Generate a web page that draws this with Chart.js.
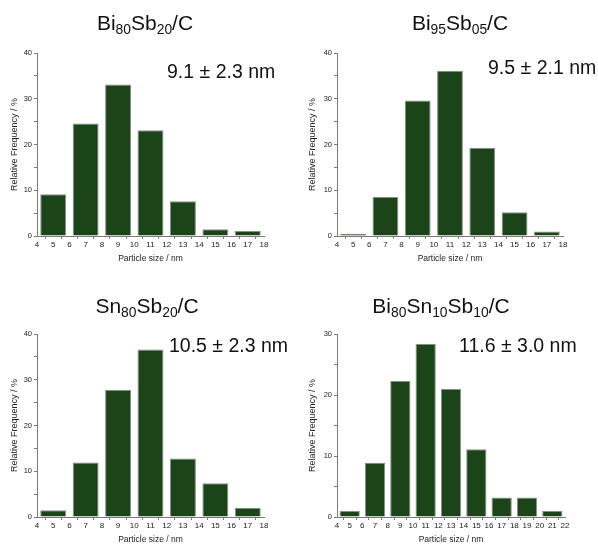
<!DOCTYPE html>
<html>
<head>
<meta charset="utf-8">
<script src="https://cdn.jsdelivr.net/npm/chart.js@4.4.1/dist/chart.umd.min.js"></script>
<style>
  html, body { margin: 0; padding: 0; background: #fff; }
  #wrap { position: relative; width: 598px; height: 545px; overflow: hidden; font-family: "Liberation Sans", Arial, sans-serif; color: #111; }
  .cv { position: absolute; }
  .ttl, .ann { position: absolute; white-space: nowrap; line-height: 1; }
  .ttl { font-size: 21px; transform: translateX(-50%); }
  .ann { font-size: 19.5px; }
  .ttl sub { font-size: 0.66em; vertical-align: -0.28em; line-height: 0; }
</style>
</head>
<body>
<div id="wrap">
  <div class="cv" style="left:0;top:0;width:298px;height:272px"><canvas id="c1"></canvas></div>
  <div class="cv" style="left:298px;top:0;width:300px;height:272px"><canvas id="c2"></canvas></div>
  <div class="cv" style="left:0;top:272px;width:298px;height:273px"><canvas id="c3"></canvas></div>
  <div class="cv" style="left:298px;top:272px;width:300px;height:273px"><canvas id="c4"></canvas></div>

  <div class="ttl" style="left:145px;top:12px">Bi<sub>80</sub>Sb<sub>20</sub>/C</div>
  <div class="ttl" style="left:460px;top:12px">Bi<sub>95</sub>Sb<sub>05</sub>/C</div>
  <div class="ttl" style="left:147px;top:295px">Sn<sub>80</sub>Sb<sub>20</sub>/C</div>
  <div class="ttl" style="left:441px;top:295px">Bi<sub>80</sub>Sn<sub>10</sub>Sb<sub>10</sub>/C</div>

  <div class="ann" style="left:167px;top:62px">9.1 ± 2.3 nm</div>
  <div class="ann" style="left:488px;top:58px">9.5 ± 2.1 nm</div>
  <div class="ann" style="left:169px;top:336px">10.5 ± 2.3 nm</div>
  <div class="ann" style="left:459px;top:336px">11.6 ± 3.0 nm</div>
</div>
<script>
// bin centres (nm) and relative frequencies (%)
const bins18 = [5, 7, 9, 11, 13, 15, 17];
const bins22 = [5, 7, 9, 11, 13, 15, 17, 19, 21];
const freqBi80Sb20   = [9.1, 24.6, 33.1, 23.1, 7.6, 1.5, 1.1];
const freqBi95Sb05   = [0.5, 8.5, 29.6, 36.1, 19.3, 5.2, 1.0];
const freqSn80Sb20   = [1.5, 11.9, 27.8, 36.6, 12.8, 7.4, 2.0];
const freqBi80Sn10Sb10 = [1.0, 8.9, 22.3, 28.4, 21.0, 11.1, 3.2, 3.2, 1.0];

const xTitle = 'Particle size / nm';
const yTitle = 'Relative Frequency / %';

const BAR = '#1b4518';
const AXIS = '#7a7a7a';

function makePanel(id, bins, freq, xMax, yMax, box) {
  const ctx = document.getElementById(id).getContext('2d');
  return new Chart(ctx, {
    type: 'bar',
    data: {
      datasets: [{
        data: bins.map((b, i) => ({ x: b, y: freq[i] })),
        backgroundColor: BAR,
        borderColor: '#8c8c8c',
        borderWidth: 1,
        // ruler spacing is 1 nm (tick step), bins are 2 nm wide -> 1.6 nm bars
        barPercentage: 1.6,
        categoryPercentage: 1
      }]
    },
    options: {
      animation: false,
      responsive: true, maintainAspectRatio: false,
      layout: { padding: { left: 0, top: box.top, right: box.right, bottom: box.bottom } },
      plugins: { legend: { display: false }, tooltip: { enabled: false } },
      scales: {
        x: {
          type: 'linear', min: 4, max: xMax, offset: false,
          afterFit: s => { s.height = 30; },
          border: { display: true, color: AXIS, width: 1 },
          grid: { drawOnChartArea: false, color: AXIS, tickLength: 3 },
          ticks: { stepSize: 1, autoSkip: false, maxRotation: 0, padding: 1, color: '#1a1a1a', font: { size: 8, family: 'Liberation Sans' } },
          title: { display: true, text: xTitle, color: '#222', padding: { top: 0, bottom: 2 }, font: { size: 8.5, family: 'Liberation Sans' } }
        },
        y: {
          min: 0, max: yMax,
          afterFit: s => { s.width = box.left; },
          border: { display: true, color: AXIS, width: 1 },
          grid: { drawOnChartArea: false, color: AXIS, tickLength: 3 },
          ticks: { stepSize: 5, padding: 2, color: '#1a1a1a', font: { size: 7.5, family: 'Liberation Sans' },
            callback: v => (v % 10 === 0 ? v : '') },
          title: { display: true, text: yTitle, color: '#222', padding: { top: 9, bottom: 0 }, font: { size: 9, family: 'Liberation Sans' } }
        }
      }
    }
  });
}

makePanel('c1', bins18, freqBi80Sb20, 18, 40, { left: 37, top: 53, right: 34, bottom: 6 });
makePanel('c2', bins18, freqBi95Sb05, 18, 40, { left: 39, top: 53, right: 35, bottom: 6 });
makePanel('c3', bins18, freqSn80Sb20, 18, 40, { left: 37, top: 62, right: 34, bottom: -2 });
makePanel('c4', bins22, freqBi80Sn10Sb10, 22, 30, { left: 39, top: 62, right: 33, bottom: -2 });
</script>
</body>
</html>
